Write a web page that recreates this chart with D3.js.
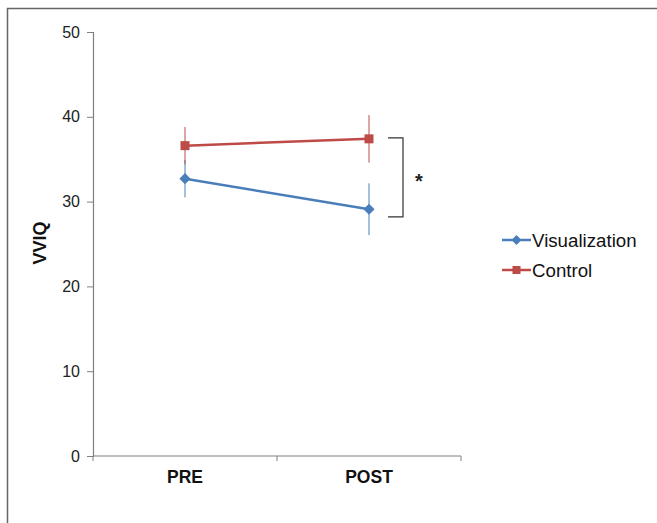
<!DOCTYPE html>
<html>
<head>
<meta charset="utf-8">
<script src="https://cdn.jsdelivr.net/npm/d3@7"></script>
<style>
  body { margin: 0; background: #fff; }
  svg { display: block; font-family: "Liberation Sans", Arial, sans-serif; }
</style>
</head>
<body>
<div id="chart"></div>
<script>
var phases = ["PRE", "POST"];
var seriesNames = ["Visualization", "Control"];
var seriesColors = ["#4a7ebb", "#be4b48"];
var visMeans = [32.7, 29.1];
var visErrors = [2.2, 3.05];
var ctrlMeans = [36.6, 37.4];
var ctrlErrors = [2.2, 2.8];
var yTicks = [0, 10, 20, 30, 40, 50];

var series = [
  { name: seriesNames[0], color: seriesColors[0], means: visMeans, errors: visErrors, marker: "diamond" },
  { name: seriesNames[1], color: seriesColors[1], means: ctrlMeans, errors: ctrlErrors, marker: "square" }
];

var width = 657, height = 523;
var plot = { left: 93, right: 461, top: 32, bottom: 456 };

var svg = d3.select("#chart").append("svg")
    .attr("width", width)
    .attr("height", height);

// outer frame (only top and left edges visible)
svg.append("path")
    .attr("d", "M7.5," + height + "V8.5H" + width)
    .attr("fill", "none")
    .attr("stroke", "#666")
    .attr("stroke-width", 1.5);

var x = d3.scaleBand()
    .domain(phases)
    .range([plot.left, plot.right]);

var y = d3.scaleLinear()
    .domain([0, 50])
    .range([plot.bottom, plot.top]);

// y axis
var yAxis = svg.append("g")
    .attr("transform", "translate(" + plot.left + ",0)")
    .call(d3.axisLeft(y).tickValues(yTicks).tickSize(6).tickPadding(7));
yAxis.select(".domain").attr("stroke", "#808080").attr("stroke-width", 1.2);
yAxis.selectAll(".tick line").attr("stroke", "#808080");
yAxis.selectAll(".tick text").attr("font-size", 16).attr("fill", "#222");

// x axis
var xAxis = svg.append("g")
    .attr("transform", "translate(0," + plot.bottom + ")")
    .call(d3.axisBottom(x).tickSize(0).tickPadding(15));
xAxis.select(".domain").remove();
xAxis.selectAll(".tick text")
    .attr("font-size", 17.5)
    .attr("font-weight", "bold")
    .attr("fill", "#111");
svg.append("line")
    .attr("x1", plot.left).attr("x2", plot.right)
    .attr("y1", plot.bottom).attr("y2", plot.bottom)
    .attr("stroke", "#808080").attr("stroke-width", 1.2);
// boundary ticks between categories
var bounds = [plot.left].concat(phases.map(function(p) { return x(p) + x.bandwidth(); }));
svg.selectAll(".xbound")
    .data(bounds)
  .enter().append("line")
    .attr("x1", function(d) { return d; })
    .attr("x2", function(d) { return d; })
    .attr("y1", plot.bottom)
    .attr("y2", plot.bottom + 5)
    .attr("stroke", "#808080");

// y axis title
svg.append("text")
    .attr("transform", "translate(46," + (y(25) - 1) + ") rotate(-90)")
    .attr("text-anchor", "middle")
    .attr("font-size", 18)
    .attr("font-weight", "bold")
    .attr("fill", "#111")
    .text("VVIQ");

var cx = function(i) { return x(phases[i]) + x.bandwidth() / 2; };

var line = d3.line()
    .x(function(d, i) { return cx(i); })
    .y(function(d) { return y(d); });

var drawMarker = function(g, type, color, px, py, size) {
  if (type === "square") {
    g.append("rect")
        .attr("x", px - size / 2).attr("y", py - size / 2)
        .attr("width", size).attr("height", size)
        .attr("fill", color);
  } else {
    var r = size * 0.62;
    g.append("path")
        .attr("d", "M" + px + "," + (py - r) + "L" + (px + r) + "," + py + "L" + px + "," + (py + r) + "L" + (px - r) + "," + py + "Z")
        .attr("fill", color);
  }
};

series.forEach(function(s) {
  var g = svg.append("g");
  // error bars
  s.means.forEach(function(m, i) {
    g.append("line")
        .attr("x1", cx(i)).attr("x2", cx(i))
        .attr("y1", y(m + s.errors[i]))
        .attr("y2", y(m - s.errors[i]))
        .attr("stroke", s.color)
        .attr("stroke-width", 1);
  });
  g.append("path")
      .datum(s.means)
      .attr("d", line)
      .attr("fill", "none")
      .attr("stroke", s.color)
      .attr("stroke-width", 2.5);
  s.means.forEach(function(m, i) {
    drawMarker(g, s.marker, s.color, cx(i), y(m), 9);
  });
});

// significance bracket
var bx = cx(1) + 19, bw = 15;
var bTop = y(37.4) - 1, bBottom = y(28.2);
svg.append("path")
    .attr("d", "M" + bx + "," + bTop + "H" + (bx + bw) + "V" + bBottom + "H" + bx)
    .attr("fill", "none")
    .attr("stroke", "#333")
    .attr("stroke-width", 1.2);
svg.append("text")
    .attr("x", bx + bw + 16)
    .attr("y", (bTop + bBottom) / 2 + 11)
    .attr("text-anchor", "middle")
    .attr("font-size", 20)
    .attr("font-weight", "bold")
    .attr("fill", "#222")
    .text("*");

// legend
var legend = svg.append("g").attr("transform", "translate(502,240)");
series.forEach(function(s, i) {
  var lg = legend.append("g").attr("transform", "translate(0," + (i * 30) + ")");
  lg.append("line")
      .attr("x1", 0).attr("x2", 29)
      .attr("stroke", s.color).attr("stroke-width", 2.5);
  drawMarker(lg, s.marker, s.color, 14.5, 0, 8);
  lg.append("text")
      .attr("x", 30).attr("y", 6.5)
      .attr("font-size", 18.7)
      .attr("fill", "#111")
      .text(s.name);
});
</script>
</body>
</html>
